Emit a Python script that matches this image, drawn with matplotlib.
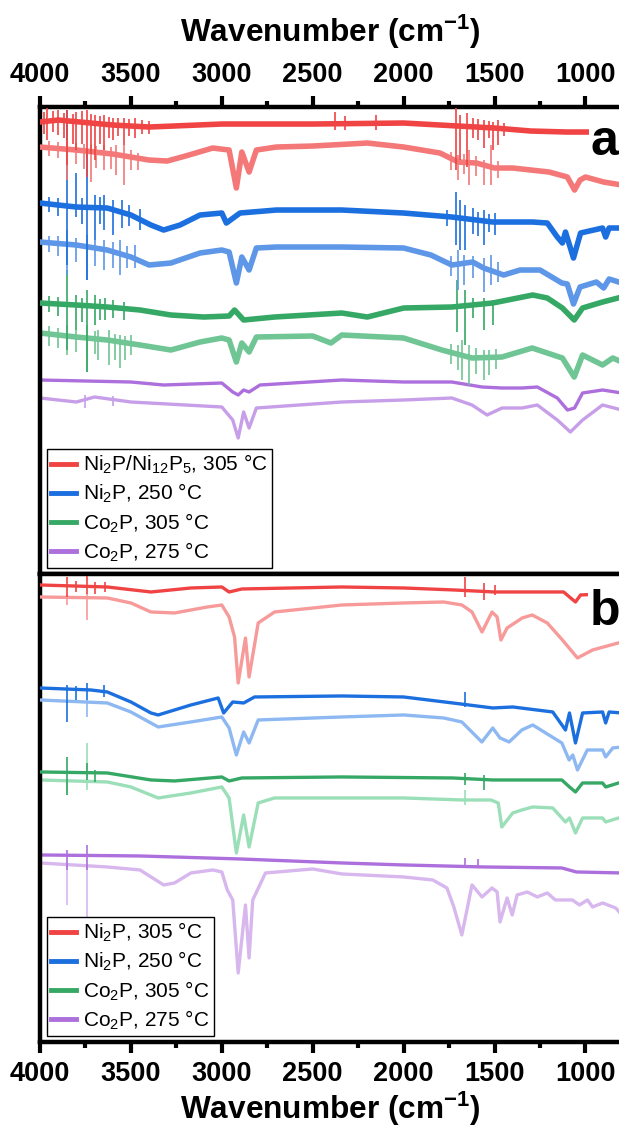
import matplotlib.pyplot as plt
from matplotlib.ticker import MultipleLocator

plt.rcParams['font.family'] = ['Liberation Sans', 'DejaVu Sans']
plt.rcParams['mathtext.fontset'] = 'custom'
plt.rcParams['mathtext.rm'] = 'Liberation Sans'
plt.rcParams['mathtext.it'] = 'Liberation Sans:italic'
plt.rcParams['mathtext.bf'] = 'Liberation Sans:bold'

# ---- panel a : offset spectra (a.u.) ----
wn_a1 = [4000, 3900, 3600, 3400, 3000, 2500, 2000, 1700, 1500, 1300, 1100, 800]
y_a1 = [452, 454, 449, 447, 450, 450, 451, 448, 446, 443, 442, 442]

wn_a2 = [4000, 3800, 3600, 3400, 3300, 3200, 3050, 2960, 2920, 2890, 2850, 2810, 2700, 2500, 2200,
         2000, 1800, 1700, 1600, 1500, 1400, 1300, 1200, 1100, 1060, 1030, 1000, 900, 800]
y_a2 = [427, 424, 420, 414, 413, 418, 426, 424, 386, 422, 402, 424, 427, 428, 431,
        427, 421, 412, 411, 406, 406, 404, 402, 397, 384, 394, 397, 392, 389]

wn_a3 = [4000, 3800, 3630, 3500, 3390, 3320, 3230, 3120, 3000, 2975, 2900, 2700, 2340, 2000, 1735,
         1510, 1290, 1210, 1155, 1127, 1110, 1066, 1027, 906, 889, 870, 800]
y_a3 = [371, 367, 366, 359, 349, 344, 349, 359, 361, 351, 361, 364, 364, 361, 357,
        352, 352, 351, 337, 331, 342, 316, 341, 346, 337, 346, 346]

wn_a4 = [4000, 3800, 3630, 3500, 3400, 3280, 3120, 3000, 2960, 2920, 2890, 2850, 2810, 2700, 2340,
         2000, 1850, 1735, 1620, 1560, 1450, 1360, 1250, 1130, 1100, 1066, 1030, 940, 900, 870, 800]
y_a4 = [332, 329, 324, 317, 309, 311, 321, 324, 322, 291, 317, 304, 326, 327, 327,
        326, 319, 309, 312, 306, 299, 304, 304, 291, 290, 270, 287, 292, 286, 295, 291]

wn_a5 = [4000, 3800, 3630, 3450, 3280, 3100, 2960, 2930, 2880, 2710, 2340, 2200, 2000, 1735,
         1510, 1290, 1210, 1127, 1062, 1016, 906, 800]
y_a5 = [271, 269, 267, 264, 259, 257, 258, 264, 254, 257, 261, 257, 266, 267,
        271, 279, 276, 266, 254, 266, 272, 277]

wn_a6 = [4000, 3800, 3630, 3450, 3280, 3120, 3000, 2960, 2920, 2890, 2850, 2810, 2500, 2400,
         2340, 2000, 1790, 1624, 1459, 1293, 1127, 1062, 1016, 906, 850, 800]
y_a6 = [241, 237, 234, 229, 224, 232, 236, 234, 212, 231, 222, 237, 238, 231,
        239, 236, 224, 216, 217, 226, 216, 197, 219, 209, 216, 212]

wn_a7 = [4000, 3500, 3320, 3000, 2940, 2910, 2880, 2850, 2790, 2340, 2000, 1735, 1569, 1459,
         1348, 1265, 1155, 1099, 1060, 1016, 906, 800]
y_a7 = [194, 192, 189, 191, 182, 179, 184, 182, 189, 194, 192, 192, 187, 186,
        186, 187, 176, 164, 166, 181, 184, 181]

wn_a8 = [4000, 3800, 3700, 3500, 3000, 2940, 2910, 2880, 2850, 2810, 2340, 2000, 1735, 1624,
         1541, 1459, 1348, 1265, 1155, 1083, 1016, 906, 800]
y_a8 = [176, 172, 177, 172, 167, 154, 136, 162, 146, 166, 172, 174, 176, 169,
        159, 166, 166, 169, 154, 142, 154, 169, 164]

# spikes / noise bursts (wavenumber, top, bottom)
sp_a1 = [(3980, 462, 440), (3960, 466, 434), (3930, 463, 442), (3900, 464, 439), (3870, 461, 436),
         (3850, 464, 409), (3820, 460, 430), (3800, 462, 424), (3770, 463, 430), (3740, 464, 397),
         (3720, 460, 420), (3700, 459, 414), (3670, 458, 430), (3650, 459, 424), (3620, 457, 436),
         (3600, 456, 434), (3570, 456, 438), (3540, 456, 429), (3510, 455, 438), (3480, 456, 436),
         (3440, 454, 440), (3400, 453, 440), (2380, 462, 444), (2320, 458, 444), (2150, 459, 444),
         (1710, 466, 404), (1690, 459, 414), (1650, 461, 407), (1620, 456, 436), (1590, 455, 434),
         (1560, 454, 426), (1530, 453, 436), (1510, 452, 424), (1480, 454, 429), (1450, 451, 438)]
sp_a2 = [(3950, 433, 418), (3900, 432, 416), (3850, 434, 394), (3800, 431, 410), (3760, 430, 405),
         (3720, 429, 392), (3690, 428, 406), (3650, 429, 404), (3610, 427, 405), (3580, 429, 399),
         (3540, 429, 389), (3500, 424, 404), (3460, 421, 404), (1740, 422, 404), (1700, 419, 394),
         (1670, 420, 400), (1640, 424, 389), (1600, 418, 398), (1560, 414, 389), (1520, 429, 389),
         (1480, 413, 396)]
sp_a3 = [(3950, 377, 362), (3900, 376, 358), (3850, 464, 309), (3800, 401, 357), (3770, 376, 350),
         (3740, 422, 294), (3700, 379, 334), (3670, 377, 350), (3650, 379, 344), (3600, 374, 339),
         (3550, 374, 346), (3510, 369, 348), (3450, 365, 344), (1760, 364, 348), (1710, 382, 329),
         (1690, 374, 324), (1660, 369, 324), (1620, 366, 340), (1590, 362, 338), (1560, 364, 329),
         (1530, 360, 342), (1500, 361, 339)]
sp_a4 = [(3950, 338, 322), (3900, 338, 318), (3850, 344, 299), (3800, 336, 312), (3740, 339, 294),
         (3700, 334, 308), (3650, 334, 304), (3600, 332, 306), (3560, 334, 299), (3520, 328, 306),
         (3480, 329, 306), (1740, 318, 298), (1700, 324, 284), (1670, 319, 289), (1620, 318, 296),
         (1560, 316, 282), (1520, 319, 289), (1480, 312, 292)]
sp_a5 = [(3950, 278, 262), (3900, 277, 258), (3850, 304, 224), (3800, 279, 244), (3770, 276, 252),
         (3740, 284, 202), (3700, 279, 249), (3670, 275, 254), (3640, 276, 254), (3600, 274, 256),
         (3540, 272, 254), (1705, 294, 242), (1660, 284, 229), (1620, 276, 256), (1560, 276, 244),
         (1510, 274, 249)]
sp_a6 = [(3950, 248, 228), (3900, 246, 226), (3850, 249, 219), (3800, 244, 222), (3740, 249, 202),
         (3700, 243, 220), (3680, 244, 214), (3620, 244, 209), (3590, 240, 214), (3560, 239, 206),
         (3530, 238, 214), (3500, 239, 219), (1740, 230, 210), (1700, 229, 204), (1680, 234, 194),
         (1640, 229, 189), (1600, 226, 200), (1560, 224, 194), (1530, 224, 199), (1490, 225, 205)]
sp_a7 = []
sp_a8 = [(3750, 179, 166), (3600, 178, 168)]

# ---- panel b ----
wn_b1 = [4000, 3630, 3390, 3170, 3000, 2960, 2890, 2340, 2000, 1720, 1500, 1120, 1088, 1055, 1027, 800]
y_b1 = [457, 455, 450, 454, 455, 450, 453, 455, 454, 452, 450, 450, 445, 440, 447, 449]

wn_b2 = [4000, 3630, 3500, 3390, 3260, 3080, 3000, 2960, 2930, 2910, 2870, 2850, 2800, 2710, 2340,
         2000, 1780, 1680, 1624, 1569, 1514, 1486, 1465, 1431, 1348, 1293, 1210, 1127, 1044, 961, 800]
y_b2 = [445, 444, 439, 430, 429, 435, 437, 425, 405, 359, 404, 365, 419, 430, 437,
        439, 440, 437, 430, 410, 430, 425, 402, 414, 424, 427, 419, 402, 384, 392, 400]

wn_b3 = [4000, 3720, 3630, 3500, 3390, 3350, 3170, 3020, 2990, 2940, 2880, 2820, 2340, 2000, 1730,
         1510, 1400, 1180, 1110, 1088, 1055, 1016, 906, 889, 870, 800]
y_b3 = [354, 352, 350, 340, 329, 327, 337, 344, 329, 340, 339, 345, 346, 345, 339,
        334, 335, 330, 312, 329, 299, 329, 330, 319, 330, 329]

wn_b4 = [4000, 3630, 3500, 3350, 3170, 3000, 2960, 2920, 2880, 2850, 2800, 2340, 2000, 1780, 1680,
         1570, 1510, 1470, 1420, 1350, 1290, 1130, 1090, 1070, 1044, 990, 906, 889, 850, 800]
y_b4 = [342, 339, 330, 315, 320, 325, 314, 287, 310, 299, 322, 325, 327, 324, 320,
        300, 314, 304, 300, 312, 317, 299, 282, 287, 272, 292, 292, 285, 294, 295]

wn_b5 = [4000, 3630, 3390, 3260, 3000, 2960, 2890, 2340, 1730, 1510, 1130, 1088, 1055, 1016, 906, 889, 800]
y_b5 = [270, 269, 262, 261, 265, 261, 264, 265, 264, 262, 262, 255, 250, 259, 259, 255, 260]

wn_b6 = [4000, 3630, 3500, 3350, 3170, 3000, 2960, 2920, 2880, 2850, 2800, 2710, 2340, 2000, 1680,
         1520, 1480, 1460, 1400, 1350, 1290, 1180, 1110, 1088, 1055, 1016, 906, 889, 800]
y_b6 = [262, 260, 255, 244, 249, 255, 244, 189, 227, 195, 239, 244, 244, 244, 242,
        242, 239, 215, 229, 232, 235, 234, 220, 224, 209, 224, 224, 220, 225]

wn_b7 = [4000, 3450, 2900, 2340, 2000, 1560, 1130, 1050, 800]
y_b7 = [187, 186, 183, 179, 177, 175, 174, 170, 169]

wn_b8 = [4000, 3630, 3450, 3320, 3260, 3170, 3050, 3000, 2970, 2940, 2910, 2870, 2850, 2830, 2760,
         2500, 2340, 2000, 1840, 1762, 1724, 1680, 1652, 1624, 1569, 1514, 1486, 1470, 1431, 1403,
         1376, 1320, 1265, 1210, 1166, 1072, 1033, 989, 961, 906, 834, 800]
y_b8 = [179, 175, 172, 157, 159, 169, 172, 170, 152, 142, 69, 137, 84, 142, 169,
        173, 168, 165, 162, 154, 135, 107, 132, 157, 145, 154, 150, 120, 144, 127,
        147, 150, 145, 149, 142, 142, 137, 142, 135, 139, 134, 127]

sp_b1 = [(3850, 465, 445), (3800, 461, 450), (3740, 466, 448), (3700, 460, 448), (3640, 460, 450),
         (1660, 465, 445), (1560, 459, 442), (1500, 457, 447)]
sp_b2 = [(3850, 447, 437), (3740, 449, 422)]
sp_b3 = [(3850, 357, 320), (3800, 356, 342), (3740, 359, 342), (3650, 357, 345), (1660, 350, 335)]
sp_b4 = [(3740, 342, 325)]
sp_b5 = [(3850, 285, 247), (3740, 279, 262), (3700, 272, 260), (1660, 269, 257), (1560, 267, 252)]
sp_b6 = [(3850, 262, 247), (3740, 299, 252), (1660, 252, 237)]
sp_b7 = [(3850, 192, 172), (3740, 197, 172), (1660, 184, 174), (1590, 183, 174)]
sp_b8 = [(3850, 177, 137), (3740, 177, 124)]

tick_pos = [4000, 3500, 3000, 2500, 2000, 1500, 1000]
tick_lab = ['4000', '3500', '3000', '2500', '2000', '1500', '1000']

labels_a = ['Ni$_2$P/Ni$_{12}$P$_5$, 305 °C', 'Ni$_2$P, 250 °C', 'Co$_2$P, 305 °C', 'Co$_2$P, 275 °C']
labels_b = ['Ni$_2$P, 305 °C', 'Ni$_2$P, 250 °C', 'Co$_2$P, 305 °C', 'Co$_2$P, 275 °C']

dark = ['#f04343', '#1c6fde', '#36a865', '#ac6fdc']
light_a = ['#f47878', '#5e97e8', '#6fc594', '#c79ee8']
light_b = ['#f79a9a', '#8db8f1', '#9bdfb8', '#d7b7ee']

curves_a = [(wn_a1, y_a1, sp_a1), (wn_a2, y_a2, sp_a2), (wn_a3, y_a3, sp_a3), (wn_a4, y_a4, sp_a4),
            (wn_a5, y_a5, sp_a5), (wn_a6, y_a6, sp_a6), (wn_a7, y_a7, sp_a7), (wn_a8, y_a8, sp_a8)]
curves_b = [(wn_b1, y_b1, sp_b1), (wn_b2, y_b2, sp_b2), (wn_b3, y_b3, sp_b3), (wn_b4, y_b4, sp_b4),
            (wn_b5, y_b5, sp_b5), (wn_b6, y_b6, sp_b6), (wn_b7, y_b7, sp_b7), (wn_b8, y_b8, sp_b8)]

fig = plt.figure(figsize=(6.19, 11.29), dpi=100)
ax1 = fig.add_axes([0.0646, 0.4916, 0.94, 0.4136])
ax2 = fig.add_axes([0.0646, 0.0771, 0.94, 0.4145])


def draw_panel(ax, curves, light, labels, lw_noisy):
    handles = []
    for i, (wn, y, sp) in enumerate(curves):
        k = i // 2
        col = dark[k] if i % 2 == 0 else light[k]
        lw = lw_noisy if k < 3 else 2.4
        line, = ax.plot(wn, y, color=col, lw=lw, solid_joinstyle='round', zorder=3 - 0.1 * i)
        if sp:
            ax.vlines([s[0] for s in sp], [s[2] for s in sp], [s[1] for s in sp],
                      color=col, lw=1.2, zorder=3 - 0.1 * i)
        if i % 2 == 0:
            handles.append(line)
    leg = ax.legend(handles, labels, loc='lower left', bbox_to_anchor=(0.012, 0.013),
                    borderaxespad=0, fontsize=15, frameon=True, fancybox=False,
                    edgecolor='black', framealpha=1, handlelength=1.2, handletextpad=0.35,
                    labelspacing=0.28, borderpad=0.2)
    leg.get_frame().set_linewidth(1.0)
    for h in leg.get_lines():
        h.set_linewidth(3.5)


draw_panel(ax1, curves_a, light_a, labels_a, 4.0)
draw_panel(ax2, curves_b, light_b, labels_b, 2.4)

ax1.set_ylim(0, 467)
ax2.set_ylim(0, 468)

for ax in (ax1, ax2):
    ax.set_xlim(4000, 800)
    ax.set_yticks([])
    ax.set_xticks(tick_pos, tick_lab, fontsize=19.5, fontweight='bold')
    ax.xaxis.set_minor_locator(MultipleLocator(250))
    ax.spines['right'].set_visible(False)
    for s in ('left', 'top', 'bottom'):
        ax.spines[s].set_linewidth(3.2)
    ax.tick_params(axis='x', which='major', length=8, width=3, pad=6)
    ax.tick_params(axis='x', which='minor', length=4, width=3)

ax1.xaxis.tick_top()
ax1.xaxis.set_label_position('top')
ax1.tick_params(axis='x', which='both', direction='out', top=True, bottom=False,
                labeltop=True, labelbottom=False)
ax2.tick_params(axis='x', which='both', direction='out', top=False, bottom=True)

ax1.set_xlabel(r'Wavenumber (cm$^{\mathbf{-1}}$)', fontsize=22.8, fontweight='bold', labelpad=14)
ax2.set_xlabel(r'Wavenumber (cm$^{\mathbf{-1}}$)', fontsize=22.8, fontweight='bold', labelpad=2)

ax1.text(0.946, 0.897, 'a', transform=ax1.transAxes, fontsize=36, fontweight='bold',
         ha='left', va='baseline', zorder=10,
         bbox=dict(facecolor='white', edgecolor='none', pad=1))
ax2.text(0.945, 0.891, 'b', transform=ax2.transAxes, fontsize=36, fontweight='bold',
         ha='left', va='baseline', zorder=10,
         bbox=dict(facecolor='white', edgecolor='none', pad=1))

fig.savefig('out.png', dpi=100)
